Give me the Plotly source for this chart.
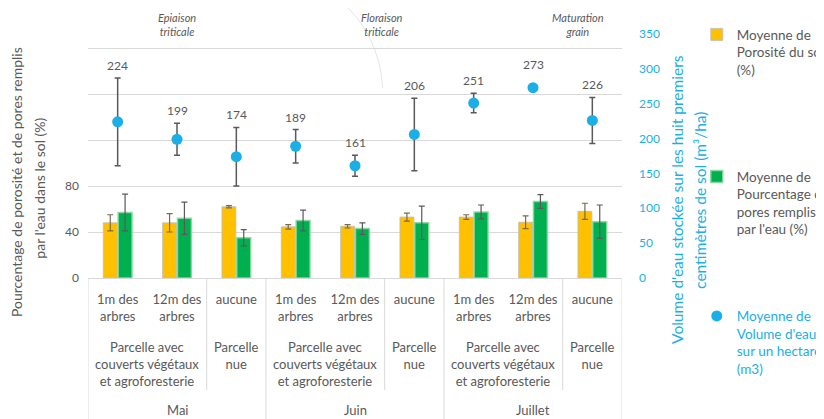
import plotly.graph_objects as go

# ---- data ----
sub_labels = ["1m des<br>arbres", "12m des<br>arbres", "aucune",
              "1m des<br>arbres", "12m des<br>arbres", "aucune",
              "1m des<br>arbres", "12m des<br>arbres", "aucune"]
parcel_labels = ["Parcelle avec<br>couverts végétaux<br>et agroforesterie", "Parcelle<br>nue"]
months = ["Mai", "Juin", "Juillet"]
stages = ["Epiaison<br>triticale", "Floraison<br>triticale", "Maturation<br>grain"]

porosite = [48, 48, 62, 44.5, 45, 53, 53, 48.5, 58]
porosite_err = [7, 8, 1, 2, 1.5, 3.5, 2, 5.5, 7]
pores = [57, 52, 35, 50, 43, 48, 57.5, 66.5, 49]
pores_err = [16, 14, 7, 9, 5, 14.5, 6, 6, 14.5]
volume = [224, 199, 174, 189, 161, 206, 251, 273, 226]
volume_err = [63, 23, 42, 24, 15, 52, 14, 0, 33]

name_por = "Moyenne de<br>Porosité du sol<br>(%)"
name_pores = "Moyenne de<br>Pourcentage de<br>pores remplis<br>par l'eau (%)"
name_vol = "Moyenne de<br>Volume d'eau<br>sur un hectare<br>(m3)"

GRAY = "#595959"
BLUE = "#1AAFE6"
YELLOW = "#FFC000"
GREEN = "#00B050"
GRID = "#D9D9D9"
FONT = "Lato"

x = list(range(len(sub_labels)))

fig = go.Figure()
fig.add_trace(go.Bar(
    x=x, y=porosite, name=name_por, marker_color=YELLOW,
    marker_line=dict(color="rgba(190,190,190,0.8)", width=1),
    error_y=dict(type="data", array=porosite_err, color="#7a6a50", thickness=1.2, width=3),
    legend="legend"))
fig.add_trace(go.Bar(
    x=x, y=pores, name=name_pores, marker_color=GREEN,
    marker_line=dict(color="rgba(140,215,160,0.9)", width=1.5),
    error_y=dict(type="data", array=pores_err, color="#5a5a5a", thickness=1.2, width=3),
    legend="legend2"))
fig.add_trace(go.Scatter(
    x=x, y=volume, name=name_vol, mode="markers", yaxis="y2",
    marker=dict(color=BLUE, size=11),
    error_y=dict(type="data", array=volume_err, color=GRAY, thickness=1.5, width=3),
    legend="legend3"))

annotations = []
# data labels for volume
for xi, v, e in zip(x, volume, volume_err):
    annotations.append(dict(x=xi, y=v + e, xref="x", yref="y2", text=str(v),
                            showarrow=False, yanchor="bottom", yshift=3 if e > 0 else 14,
                            font=dict(size=12, color=GRAY, family=FONT)))

# level 2: parcel labels, level 3: months
for m in range(3):
    annotations.append(dict(x=3 * m + 0.5, y=-0.242, xref="x", yref="paper",
                            text=parcel_labels[0], showarrow=False, yanchor="top",
                            xanchor="center", font=dict(size=13, color=GRAY, family=FONT)))
    annotations.append(dict(x=3 * m + 2, y=-0.242, xref="x", yref="paper",
                            text=parcel_labels[1], showarrow=False, yanchor="top",
                            xanchor="center", font=dict(size=13, color=GRAY, family=FONT)))
    annotations.append(dict(x=3 * m + 1, y=-0.541, xref="x", yref="paper",
                            text=months[m], showarrow=False, yanchor="middle",
                            xanchor="center", font=dict(size=13, color=GRAY, family=FONT)))

# stage annotations at top
for sx, st in zip([1.0, 4.45, 7.75], stages):
    annotations.append(dict(x=sx, y=1.037, xref="x", yref="paper",
                            text="<i>" + st + "</i>", showarrow=False, yanchor="middle",
                            xanchor="center", font=dict(size=11, color=GRAY, family=FONT)))

# axis titles as annotations
annotations.append(dict(x=-0.134, y=0.395, xref="paper", yref="paper", textangle=-90,
                        xanchor="center", yanchor="middle",
                        text="Pourcentage de porosité et de pores remplis", showarrow=False,
                        font=dict(size=14, color=GRAY, family=FONT)))
annotations.append(dict(x=-0.09, y=0.37, xref="paper", yref="paper", textangle=-90,
                        xanchor="center", yanchor="middle",
                        text="par l'eau dans le sol (%)", showarrow=False,
                        font=dict(size=14, color=GRAY, family=FONT)))
annotations.append(dict(x=1.103, y=0.32, xref="paper", yref="paper", textangle=-90,
                        xanchor="center", yanchor="middle",
                        text="Volume d'eau stockée sur les huit premiers", showarrow=False,
                        font=dict(size=15.5, color=BLUE, family=FONT)))
annotations.append(dict(x=1.146, y=0.32, xref="paper", yref="paper", textangle=-90,
                        xanchor="center", yanchor="middle",
                        text="centimètres de sol (m³/ha)", showarrow=False,
                        font=dict(size=15.5, color=BLUE, family=FONT)))

shapes = []
for b in [-0.5, 2.5, 5.5, 8.5]:
    shapes.append(dict(type="line", xref="x", yref="paper", x0=b, x1=b, y0=0, y1=-0.6,
                       line=dict(color=GRID, width=1)))
for b in [1.5, 4.5, 7.5]:
    shapes.append(dict(type="line", xref="x", yref="paper", x0=b, x1=b, y0=0, y1=-0.459,
                       line=dict(color=GRID, width=1)))
shapes.append(dict(type="path", xref="paper", yref="paper",
                   path="M 0.472,1.139 Q 0.545,1.0 0.552,0.779",
                   line=dict(color="rgba(205,205,205,0.55)", width=1)))

fig.update_layout(
    width=816, height=411,
    margin=dict(l=80, r=202, t=26, b=141, autoexpand=False),
    paper_bgcolor="white", plot_bgcolor="white",
    font=dict(family=FONT, size=12, color=GRAY),
    showlegend=True,
    barmode="group", bargap=0.5, bargroupgap=0.06,
    xaxis=dict(range=[-0.5, 8.5], tickvals=x, ticktext=sub_labels,
               ticks="outside", ticklen=9, tickcolor="rgba(0,0,0,0)",
               showgrid=False, zeroline=False, showline=True, linecolor=GRID,
               tickfont=dict(size=13, color=GRAY)),
    yaxis=dict(range=[0, 212.2], tickvals=[0, 40, 80, 120, 160, 200],
               ticktext=["0", "40", "80", "", "", ""],
               gridcolor=GRID, zeroline=False, showline=False,
               ticklabelstandoff=8, tickfont=dict(size=12, color=GRAY)),
    yaxis2=dict(range=[0, 350], overlaying="y", side="right",
                tickvals=[0, 50, 100, 150, 200, 250, 300, 350],
                showgrid=False, zeroline=False, showline=False,
                ticklabelstandoff=16, tickfont=dict(size=12, color=BLUE)),
    legend=dict(x=1.14, y=1.061, xanchor="left", yanchor="top", valign="top",
                bgcolor="rgba(0,0,0,0)", font=dict(size=13.5, color=GRAY, family=FONT)),
    legend2=dict(x=1.14, y=0.479, xanchor="left", yanchor="top", valign="top",
                 bgcolor="rgba(0,0,0,0)", font=dict(size=13.5, color=GRAY, family=FONT)),
    legend3=dict(x=1.14, y=-0.093, xanchor="left", yanchor="top", valign="top",
                 bgcolor="rgba(0,0,0,0)", font=dict(size=13.5, color=BLUE, family=FONT)),
    annotations=annotations, shapes=shapes,
)

fig.write_html("out.html")
